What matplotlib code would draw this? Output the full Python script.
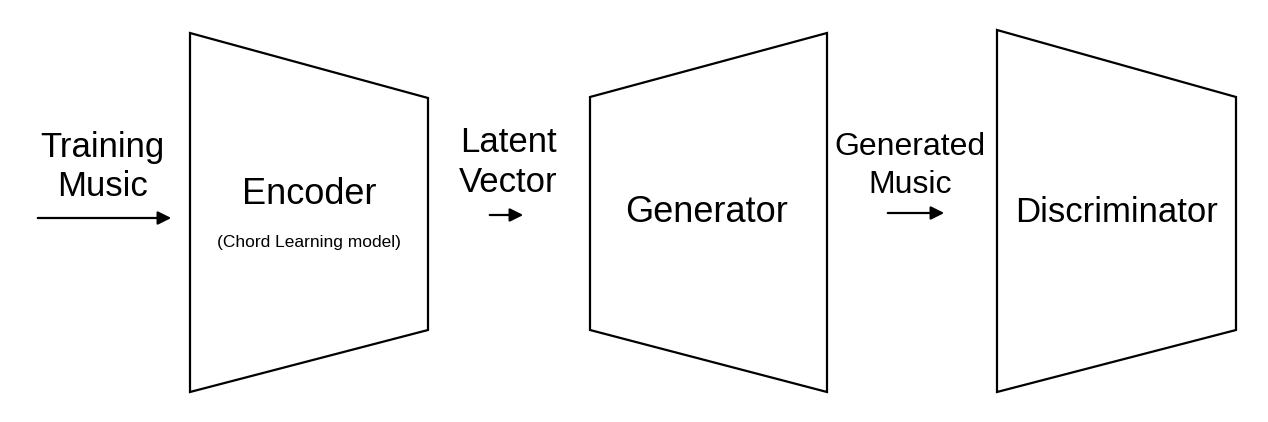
import matplotlib.pyplot as plt
from matplotlib.patches import Polygon

plt.rcParams['font.family'] = ['Liberation Sans', 'DejaVu Sans']

# trapezoid blocks in pixel coordinates: (x_left, y_left_top, y_left_bottom, x_right, y_right_top, y_right_bottom)
blocks = {
    "Encoder": (190, 33, 392, 428, 98, 330),
    "Generator": (590, 97, 330, 827, 33, 392),
    "Discriminator": (997, 30, 392, 1236, 97, 330),
}
block_labels = [("Encoder", 309, 194, 26), ("Generator", 707, 213, 26), ("Discriminator", 1117, 213, 25)]

# arrows: (x_start, x_end, y)
arrows = [(35, 174, 218), (487, 526, 215), (885, 947, 213)]

# arrow captions: (text, x, y, fontsize)
captions = [
    ("Training", 102, 147, 25), ("Music", 102, 187, 25),
    ("Latent", 508, 142, 25), ("Vector", 508, 183, 25),
    ("Generated", 910, 147, 23), ("Music", 910, 185, 23),
    ("(Chord Learning model)", 309, 242, 12.5),
]

fig = plt.figure(figsize=(12.68, 4.22), dpi=100)
ax = fig.add_axes([0, 0, 1, 1])
ax.set_xlim(0, 1268)
ax.set_ylim(422, 0)
ax.axis('off')

for name, (xl, ylt, ylb, xr, yrt, yrb) in blocks.items():
    ax.add_patch(Polygon([(xl, ylt), (xr, yrt), (xr, yrb), (xl, ylb)], closed=True,
                         fill=False, edgecolor='black', linewidth=1.6))

for text, x, y, fs in block_labels:
    ax.text(x, y, text, fontsize=fs, ha='center', va='center')

for x0, x1, y in arrows:
    ax.annotate('', xy=(x1, y), xytext=(x0, y),
                arrowprops=dict(arrowstyle='-|>', color='black', lw=1.6, mutation_scale=20))

for text, x, y, fs in captions:
    ax.text(x, y, text, fontsize=fs, ha='center', va='center')

fig.savefig('out.png', dpi=100)
